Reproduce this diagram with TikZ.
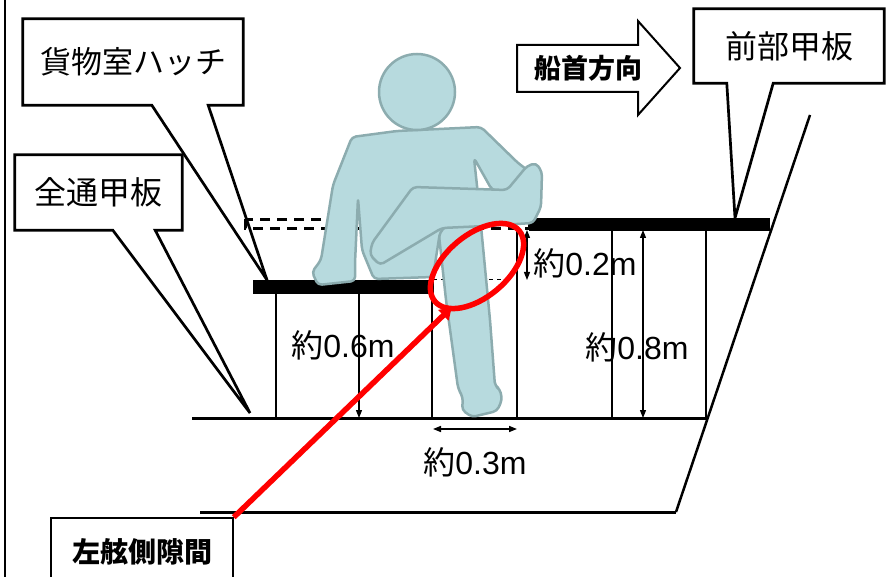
\documentclass[tikz,border=0pt]{standalone}
\usepackage{fontspec}
\setmainfont{Liberation Sans}
\newfontfamily\jp{Noto Sans CJK JP}
\usetikzlibrary{arrows.meta,shapes.geometric,backgrounds}

\definecolor{figfill}{HTML}{B7DADE}
\definecolor{figline}{HTML}{8CACAF}
\definecolor{markred}{HTML}{FF0000}

\newcommand\approxlbl[1]{{\jp 約}#1}

\begin{document}
\begin{tikzpicture}[x=1pt,y=-1pt,
  callout/.style={draw=black, line width=2.7pt, fill=white, line join=miter},
  lbl/.style={inner sep=0pt, font=\jp\fontsize{31}{31}\selectfont},
  boldlbl/.style={inner sep=0pt, font=\jp\bfseries\fontsize{27}{27}\selectfont},
  dimtext/.style={inner sep=0pt, font=\fontsize{32}{32}\selectfont},
  deck/.style={line width=3pt},
  post/.style={line width=2.2pt},
  bar/.style={fill=black},
  dim/.style={line width=1.2pt, {Triangle[length=8pt,width=6pt]}-{Triangle[length=8pt,width=6pt]}},
  dimdown/.style={line width=1.2pt, -{Triangle[length=8pt,width=6pt]}},
  body/.style={fill=figfill, draw=figline, line width=2.5pt, line join=round, rounded corners=4pt},
]
\useasboundingbox (0,0) rectangle (886,577);

% frame edge
\draw[line width=2pt] (5,0) -- (5,577);

% ---- label boxes and their pointers
\node[lbl, minimum width=220pt, minimum height=86pt] (hatch) at (133,62) {貨物室ハッチ};
\coordinate (hatchtip) at (267,280);
\node[lbl, font=\jp\fontsize{32}{32}\selectfont, minimum width=167pt, minimum height=75pt] (main) at (98.5,192.5) {全通甲板};
\coordinate (maintip) at (250,413);
\node[lbl, font=\jp\fontsize{32}{32}\selectfont, minimum width=190pt, minimum height=74pt] (fore) at (789,46) {前部甲板};
\coordinate (foretip) at (735,218);
\node[boldlbl] (bow) at (588,68) {船首方向};
\node[boldlbl, font=\jp\bfseries\fontsize{28}{28}\selectfont, draw, line width=1.5pt, minimum width=182pt, minimum height=68pt] (gap) at (142,552) {左舷側隙間};

\begin{pgfonlayer}{background}
  \draw[callout] (hatch.south west) -- (hatch.north west) -- (hatch.north east) -- (hatch.south east)
    -- ([xshift=-35pt]hatch.south east) -- (hatchtip) -- ([xshift=129pt]hatch.south west) -- cycle;
  \draw[callout] (main.south west) -- (main.north west) -- (main.north east) -- (main.south east)
    -- ([xshift=-27pt]main.south east) -- (maintip) -- ([xshift=98pt]main.south west) -- cycle;
  \draw[callout] (fore.south west) -- (fore.north west) -- (fore.north east) -- (fore.south east)
    -- ([xshift=-111pt]fore.south east) -- (foretip) -- ([xshift=33pt]fore.south west) -- cycle;
  % heading arrow
  \draw[line width=2pt, fill=white, line join=miter]
    (517,45) -- (638,45) -- (638,21) -- (680,68) -- (638,115) -- (638,92) -- (517,92) -- cycle;
\end{pgfonlayer}

% ---- hull outline
\draw[deck] (192,418) -- (708,418);
\draw[deck] (200,512) -- (676,512);
\draw[line width=2.5pt] (810,115) -- (676,512);

% forward deck level carried aft
\draw[line width=3pt, dash pattern=on 10pt off 7pt] (245,219.5) rectangle (529,228.5);
\draw[line width=1pt, dash pattern=on 4pt off 4pt] (433,280) -- (512,280);

% hatch cover and forward deck
\draw[bar] (253,280) rectangle (433,293);
\draw[bar] (529,218) rectangle (769,230);

% supports
\foreach \px in {276,432} \draw[post] (\px,293) -- (\px,418);
\foreach \px in {517,612,706} \draw[post] (\px,230) -- (\px,418);

% ---- seated figure
\draw[body] (438,226) -- (446,300) -- (458,388) -- (463,398) -- (462,410) -- (472,417)
  -- (497,411) -- (502,400) -- (500,389) -- (495,386) -- (490,320) -- (481,226) -- cycle;
\draw[body] (352,137) -- (397,131) -- (481,127) -- (518,163) -- (530,172) -- (512,193)
  -- (492,190) -- (474,158) -- (478,195) -- (440,232) -- (433,277) -- (374,279)
  -- (362,250) -- (358,198) -- (355,263) -- (355,281) -- (318,285) -- (312,272)
  -- (321,260) -- (333,185) -- cycle;
\draw[body] (413,187) -- (507,190) -- (527,166) -- (536,163) -- (542,172) -- (541,207)
  -- (533,223) -- (485,226) -- (442,228) -- (380,265) -- (370,255) -- (372,243) -- cycle;
\draw[body] (417,92) circle[radius=38];

% ---- dimensions
\coordinate (d6a) at (359,293); \coordinate (d6b) at (359,418);
\draw[dimdown] (d6a) -- (d6b);
\coordinate (d2a) at (527,230); \coordinate (d2b) at (527,280);
\draw[dim] (d2a) -- (d2b);
\coordinate (d8a) at (643,230); \coordinate (d8b) at (643,418);
\draw[dim] (d8a) -- (d8b);
\coordinate (d3a) at (433,429); \coordinate (d3b) at (517,429);
\draw[dim, line width=1.5pt] (d3a) -- (d3b);

\node[dimtext] (t6) at (343,345) {\approxlbl{0.6m}};
\node[dimtext] (t2) at (585,263) {\approxlbl{0.2m}};
\node[dimtext] (t8) at (637,347) {\approxlbl{0.8m}};
\node[dimtext] (t3) at (475,462) {\approxlbl{0.3m}};

% ---- gap marker
\node[draw=markred, line width=5.5pt, ellipse, rotate=40, minimum width=110pt, minimum height=62pt, inner sep=0pt] (ring) at (477,266) {};
\coordinate (ringtip) at (452,307);
\draw[markred, line width=5.5pt, -{Triangle[length=12pt,width=14pt]}] (gap.north east) -- (ringtip);
\end{tikzpicture}
\end{document}
